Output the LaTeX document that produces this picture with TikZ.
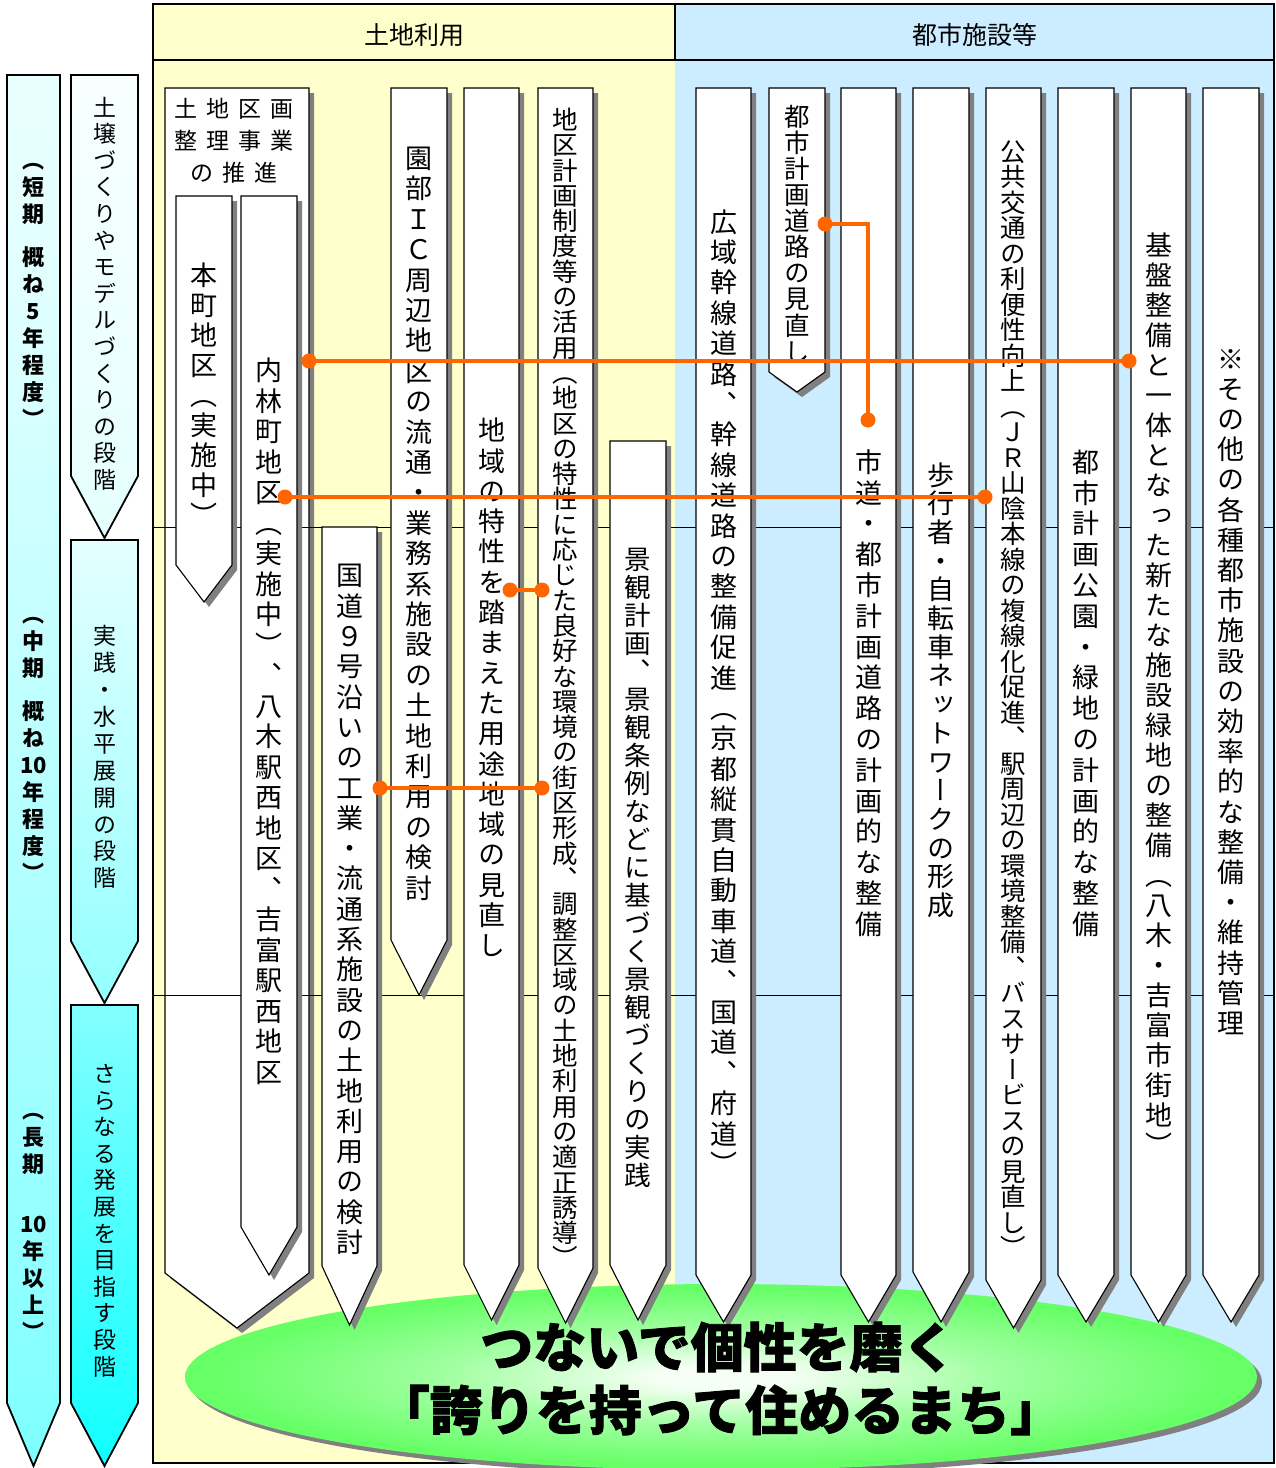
\documentclass[tikz,border=0pt]{standalone}
\usepackage{fontspec}
\newfontfamily\cjk{Noto Sans CJK JP}
\newfontfamily\cjkv[RawFeature=+vert]{Noto Sans CJK JP}
\definecolor{landbg}{HTML}{FFFFCC}
\definecolor{citybg}{HTML}{CCECFF}
\definecolor{shadowgray}{HTML}{808080}
\definecolor{linkorange}{HTML}{FF6600}
\definecolor{ellgreen}{HTML}{66FF66}
\definecolor{gA}{HTML}{F6FFF6}
\definecolor{gB}{HTML}{A0FFA0}
\definecolor{cy0}{HTML}{10FFFF}
\definecolor{cy1}{HTML}{80FFFF}
\definecolor{cy2}{HTML}{98FFFF}
\definecolor{cy3}{HTML}{E4FFFF}
\definecolor{cy4}{HTML}{F8FFFF}
\pgfdeclareradialshading{ellshade}{\pgfpoint{0bp}{0bp}}{color(0bp)=(gA); color(3bp)=(gA); color(13bp)=(gB); color(24bp)=(ellgreen); color(50bp)=(ellgreen)}
\pgfdeclareverticalshading{cyanlong}{100bp}{color(0bp)=(cy0); color(26bp)=(cy1); color(35bp)=(cy2); color(69bp)=(cy3); color(100bp)=(cy4)}
% vertical text
\newdimen\vtp \newdimen\vtw
\let\vsp\relax \let\vtend\relax
\def\vtendmark{\vtend}
\def\vtspmark{\vsp}
\def\vtloop#1{\def\vtarg{#1}%
  \ifx\vtarg\vtendmark\else
    \ifx\vtarg\vtspmark\kern.6\vtp\else
      \vbox to\vtp{\vss\hbox to\vtw{\hss\vrule height .88em depth .12em width 0pt\relax#1\hss}\vss}%
    \fi
  \expandafter\vtloop\fi}
\newcommand\vtext[2]{\vtp=#1\relax\vtw=1.3em\relax\vbox{\offinterlineskip\vtloop#2\vtend}}
% pointed column: name, xl, xr, ytop, yshaft, ytip
\newcommand\pcol[6]{%
  \fill[shadowgray,shift={(5,5)}] (#2,#4) -- (#3,#4) -- (#3,#5) -- ({(#2+#3)/2},#6) -- (#2,#5) -- cycle;
  \draw[colbox] (#2,#4) coordinate (#1-nw) -- (#3,#4) coordinate (#1-ne) -- (#3,#5) -- ({(#2+#3)/2},#6) coordinate (#1-tip) -- (#2,#5) -- cycle;
}
\begin{document}
\begin{tikzpicture}[x=1pt,y=-1pt,
  colbox/.style={draw=black,line width=1.1pt,fill=white,line join=miter},
  stagebox/.style={draw=black,line width=1.8pt,line join=miter},
  divider/.style={draw=black,line width=0.9pt},
  frame/.style={draw=black,line width=2pt},
  hdr/.style={inner sep=0pt,font=\cjk\fontsize{25}{25}\selectfont},
  vt/.style={inner sep=0pt,font=\cjkv\fontsize{#1}{#1}\selectfont},
  vtb/.style={inner sep=0pt,font=\cjkv\bfseries\fontsize{#1}{#1}\selectfont},
  dot/.style={circle,fill=linkorange,inner sep=0pt,minimum size=15pt},
  link/.style={draw=linkorange,line width=3.2pt},
  titletext/.style={inner sep=0pt,font=\cjk\bfseries\fontsize{53}{53}\selectfont\addfontfeature{FakeBold=1.6}}]
\useasboundingbox (0,0) rectangle (1276,1468);
\fill[white] (0,0) rectangle (1276,1468);

% ---- stage arrows (left) ----
\path[shade,shading=cyanlong,stagebox] (7,75) -- (60,75) -- (60,1403) -- (33.5,1466) -- (7,1403) -- cycle;
\path[top color=cy4,bottom color=cy3,stagebox] (71,75) -- (138,75) -- (138,476) -- (104.5,538) -- (71,476) -- cycle;
\path[top color=cy3,bottom color=cy2!80!cy1,stagebox] (71,540) -- (138,540) -- (138,941) -- (104.5,1003) -- (71,941) -- cycle;
\path[top color=cy1!90!cy2,bottom color=cy0,stagebox] (71,1005) -- (138,1005) -- (138,1403) -- (104.5,1466) -- (71,1403) -- cycle;

\node[vtb=22] (sShort) at (33.5,290) {\vtext{27pt}{（短期\vsp 概ね5年程度）}};
\node[vtb=22] (sMid) at (33.5,744) {\vtext{27pt}{（中期\vsp 概ね{10}年程度）}};
\node[vtb=22] (sLong) at (33.5,1221) {\vtext{27pt}{（長期\vsp\vsp{10}年以上）}};
\node[vt=23] (stA) at (104.5,293.5) {\vtext{26.6pt}{土壌づくりやモデルづくりの段階}};
\node[vt=23] (stB) at (104.5,757) {\vtext{26.9pt}{実践・水平展開の段階}};
\node[vt=23] (stC) at (104.5,1220) {\vtext{26.6pt}{さらなる発展を目指す段階}};

% ---- panels ----
\fill[landbg] (153,4) rectangle (675,1463);
\fill[citybg] (675,4) rectangle (1274,1463);
\draw[frame] (153,4) rectangle (1274,1463);
\draw[frame] (153,60) -- (1274,60);
\draw[line width=1.5pt] (675,4) -- (675,60);
\node[hdr] (hLand) at (414,35) {土地利用};
\node[hdr] (hCity) at (975,35) {都市施設等};

% big land readjustment box
\pcol{big}{165}{309}{88}{1273}{1328}
\node[inner sep=0pt,align=center,font=\cjk\fontsize{23}{32}\selectfont] (bigT) at (234,141)
  {土\hspace{9pt}地\hspace{9pt}区\hspace{9pt}画\\整\hspace{9pt}理\hspace{9pt}事\hspace{9pt}業\\の\hspace{9pt}推\hspace{9pt}進};

% stage dividers
\draw[divider] (153,527) -- (1274,527);
\draw[divider] (153,995) -- (1274,995);

% ---- goal ellipse ----
\fill[shadowgray] (726,1382) ellipse [x radius=536,y radius=93];
\shade[shading=ellshade] (721,1377) ellipse [x radius=536,y radius=93];

% ---- columns ----
\pcol{honmachi}{176}{232}{196}{565}{602}
\pcol{uchib}{241}{297}{196}{1227}{1275}
\pcol{kokudo}{322}{377}{527}{1266}{1325}
\pcol{sonobe}{391}{447}{88}{940}{995}
\pcol{chiiki}{464}{519}{88}{1265}{1320}
\pcol{chiku}{538}{593}{88}{1268}{1323}
\pcol{keikan}{610}{666}{441}{1265}{1320}
\pcol{kouiki}{696}{751}{88}{1275}{1322}
\pcol{minaoshi}{769}{825}{88}{372}{392}
\pcol{shidou}{841}{896}{88}{1275}{1322}
\pcol{hokou}{913}{969}{88}{1272}{1322}
\pcol{koukyou}{986}{1041}{88}{1280}{1328}
\pcol{kouen}{1058}{1114}{88}{1275}{1322}
\pcol{kiban}{1131}{1186}{88}{1275}{1322}
\pcol{sonota}{1203}{1259}{88}{1275}{1322}

% ---- column texts ----
\node[vt=27] (tHon) at (204,395) {\vtext{30pt}{本町地区（実施中）}};
\node[vt=27] (tUchi) at (269,721) {\vtext{30.5pt}{内林町地区（実施中）、八木駅西地区、吉富駅西地区}};
\node[vt=27] (tKoku) at (349.5,909) {\vtext{30.3pt}{国道９号沿いの工業・流通系施設の土地利用の検討}};
\node[vt=27] (tSono) at (419,523) {\vtext{30.4pt}{園部ＩＣ周辺地区の流通・業務系施設の土地利用の検討}};
\node[vt=27] (tChiiki) at (491.5,688) {\vtext{30.3pt}{地域の特性を踏まえた用途地域の見直し}};
\node[vt=25.5] (tChiku) at (565.5,689) {\vtext{25.3pt}{地区計画制度等の活用（地区の特性に応じた良好な環境の街区形成、調整区域の土地利用の適正誘導）}};
\node[vt=26.5] (tKei) at (638,867) {\vtext{28pt}{景観計画、景観条例などに基づく景観づくりの実践}};
\node[vt=27] (tKoui) at (723.5,693) {\vtext{30.4pt}{広域幹線道路、幹線道路の整備促進（京都縦貫自動車道、国道、府道）}};
\node[vt=25.5] (tMina) at (797,234) {\vtext{26.1pt}{都市計画道路の見直し}};
\node[vt=27] (tShi) at (868.5,693) {\vtext{30.8pt}{市道・都市計画道路の計画的な整備}};
\node[vt=27] (tHoko) at (941,690) {\vtext{28.7pt}{歩行者・自転車ネットワークの形成}};
\node[vt=25.5] (tKoukyou) at (1013.5,700) {\vtext{25.5pt}{公共交通の利便性向上（ＪＲ山陰本線の複線化促進、駅周辺の環境整備、バスサービスの見直し）}};
\node[vt=27] (tKouen) at (1086,693) {\vtext{30.8pt}{都市計画公園・緑地の計画的な整備}};
\node[vt=27] (tKiban) at (1158.5,695) {\vtext{30pt}{基盤整備と一体となった新たな施設緑地の整備（八木・吉富市街地）}};
\node[vt=27] (tSonota) at (1231,691) {\vtext{30.2pt}{※その他の各種都市施設の効率的な整備・維持管理}};

% ---- connectors ----
\node[dot] (dA1) at (309,361) {};
\node[dot] (dA2) at (1129,361) {};
\node[dot] (dB1) at (285,497) {};
\node[dot] (dB2) at (985,497) {};
\node[dot] (dC1) at (825,224) {};
\node[dot] (dC2) at (868,420) {};
\node[dot] (dD1) at (510,590) {};
\node[dot] (dD2) at (542,590) {};
\node[dot] (dE1) at (380,788) {};
\node[dot] (dE2) at (542,788) {};
\draw[link] (dA1.center) -- (dA2.center);
\draw[link] (dB1.center) -- (dB2.center);
\draw[link] (dC1.center) -| (dC2.center);
\draw[link] (dD1.center) -- (dD2.center);
\draw[link] (dE1.center) -- (dE2.center);

% ---- goal text ----
\node[titletext] (goal1) at (718,1347) {つないで個性を磨く};
\node[titletext] (goal2) at (720,1410) {「誇りを持って住めるまち」};
\end{tikzpicture}
\end{document}
